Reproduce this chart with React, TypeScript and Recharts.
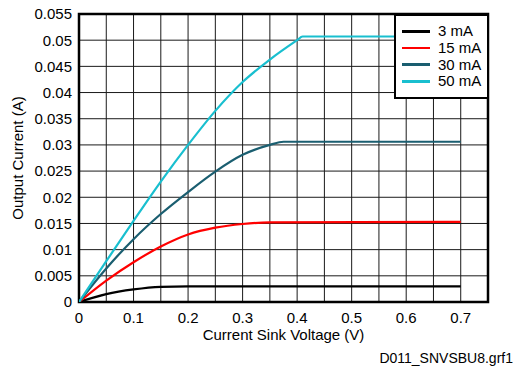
import React from 'react';
import {
  LineChart,
  Line,
  XAxis,
  YAxis,
  CartesianGrid,
  ReferenceArea,
  Legend,
  Label,
} from 'recharts';

const FONT = '"Liberation Sans", Arial, sans-serif';

// sink voltage (V) and output current (A)
const volts3mA = [0, 0.05, 0.1, 0.15, 0.2, 0.7];
const amps3mA = [0, 0.0015, 0.0024, 0.0029, 0.003, 0.003];

const volts15mA = [0, 0.05, 0.1, 0.15, 0.2, 0.25, 0.3, 0.35, 0.7];
const amps15mA = [0, 0.0041, 0.0076, 0.0106, 0.0129, 0.0142, 0.0149, 0.0152, 0.0153];

const volts30mA = [0, 0.05, 0.1, 0.15, 0.2, 0.25, 0.3, 0.35, 0.375, 0.7];
const amps30mA = [0, 0.0064, 0.012, 0.0168, 0.021, 0.0249, 0.0281, 0.03, 0.0306, 0.0306];

const volts50mA = [0, 0.05, 0.1, 0.15, 0.2, 0.25, 0.3, 0.35, 0.4, 0.41, 0.7];
const amps50mA = [0, 0.0078, 0.0155, 0.023, 0.03, 0.0365, 0.042, 0.0463, 0.05, 0.0507, 0.0507];

const xTicks = [0, 0.05, 0.1, 0.15, 0.2, 0.25, 0.3, 0.35, 0.4, 0.45, 0.5, 0.55, 0.6, 0.65, 0.7, 0.75];
const yTicks = [0, 0.005, 0.01, 0.015, 0.02, 0.025, 0.03, 0.035, 0.04, 0.045, 0.05, 0.055];

const toPoints = (xs: number[], ys: number[]) => xs.map((v, i) => ({ v, a: ys[i] }));

const series = [
  { name: '3 mA', color: '#000000', data: toPoints(volts3mA, amps3mA) },
  { name: '15 mA', color: '#ff0000', data: toPoints(volts15mA, amps15mA) },
  { name: '30 mA', color: '#1a5e70', data: toPoints(volts30mA, amps30mA) },
  { name: '50 mA', color: '#19bfcf', data: toPoints(volts50mA, amps50mA) },
];

const fmtX = (v: number) => {
  const tenths = Math.round(v * 100);
  return tenths % 10 === 0 && v < 0.75 ? String(+v.toFixed(1)) : '';
};

const fmtY = (v: number) => String(+v.toFixed(3));

function LegendBox() {
  return (
    <div
      style={{
        boxSizing: 'border-box',
        width: 95,
        height: 85,
        border: '2px solid #000',
        background: '#fff',
        padding: '7px 0 0 6px',
        fontFamily: FONT,
        fontSize: 15,
        color: '#000',
      }}
    >
      {series.map((s) => (
        <div
          key={s.name}
          style={{ display: 'flex', alignItems: 'center', height: 16.7 }}
        >
          <div style={{ width: 28, height: 2.5, background: s.color, marginRight: 8 }} />
          <span style={{ lineHeight: '16px' }}>{s.name}</span>
        </div>
      ))}
    </div>
  );
}

function YTitle({ viewBox }: any) {
  const cy = viewBox.y + viewBox.height / 2;
  return (
    <text
      x={17}
      y={cy}
      transform={`rotate(-90 17 ${cy})`}
      textAnchor="middle"
      dominantBaseline="central"
      fontSize={15}
      fontFamily={FONT}
      fill="#000"
    >
      Output Current (A)
    </text>
  );
}

export default function App() {
  return (
    <div style={{ position: 'absolute', left: 0, top: 0, width: 517, height: 368, background: '#fff' }}>
      <LineChart
        width={517}
        height={368}
        margin={{ top: 14, right: 29, bottom: 36, left: 0 }}
      >
        <CartesianGrid stroke="#1a1a1a" strokeWidth={1} />
        <XAxis
          type="number"
          dataKey="v"
          domain={[0, 0.75]}
          ticks={xTicks}
          tickFormatter={fmtX}
          allowDataOverflow
          axisLine={false}
          tickLine={false}
          tickSize={6}
          tickMargin={4}
          height={30}
          interval={0}
          tick={{ fill: '#000', fontSize: 15, fontFamily: FONT }}
        >
          <Label
            value="Current Sink Voltage (V)"
            position="insideBottom"
            offset={-8}
            fill="#000"
            fontSize={15}
            fontFamily={FONT}
          />
        </XAxis>
        <YAxis
          type="number"
          domain={[0, 0.055]}
          ticks={yTicks}
          tickFormatter={fmtY}
          allowDataOverflow
          axisLine={false}
          tickLine={false}
          tickSize={5}
          tickMargin={2}
          width={79}
          interval={0}
          tick={{ fill: '#000', fontSize: 15, fontFamily: FONT }}
        >
          <Label content={<YTitle />} />
        </YAxis>
        {series.map((s) => (
          <Line
            key={s.name}
            data={s.data}
            dataKey="a"
            name={s.name}
            type="monotone"
            stroke={s.color}
            strokeWidth={2.2}
            dot={false}
            activeDot={false}
            isAnimationActive={false}
          />
        ))}
        <ReferenceArea
          x1={0}
          x2={0.75}
          y1={0}
          y2={0.055}
          fill="none"
          stroke="#000"
          strokeWidth={2.5}
        />
        <Legend
          layout="vertical"
          align="center"
          verticalAlign="middle"
          content={<LegendBox />}
          wrapperStyle={{ top: 14, left: 394, width: 95, height: 85 }}
        />
      </LineChart>
      <div
        style={{
          position: 'absolute',
          right: 4,
          top: 351,
          fontFamily: FONT,
          fontSize: 14,
          lineHeight: '15px',
          color: '#000',
        }}
      >
        D011_SNVSBU8.grf1
      </div>
    </div>
  );
}
